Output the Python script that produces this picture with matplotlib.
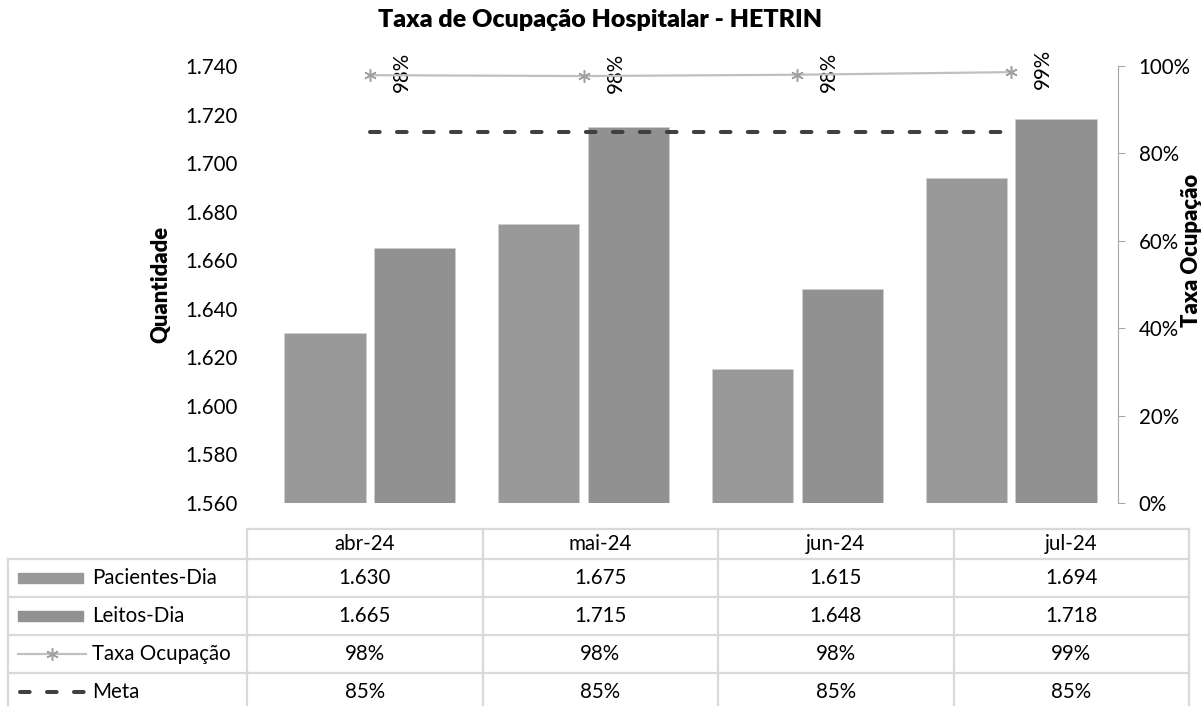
import matplotlib.pyplot as plt
import numpy as np
from matplotlib.lines import Line2D
from matplotlib.patches import Rectangle
from matplotlib.ticker import FuncFormatter, MultipleLocator

plt.rcParams["font.family"] = ["Lato", "DejaVu Sans"]

# data
months = ["abr-24", "mai-24", "jun-24", "jul-24"]
pacientes_dia = [1630, 1675, 1615, 1694]
leitos_dia = [1665, 1715, 1648, 1718]
taxa_ocupacao = [0.979, 0.977, 0.980, 0.986]
meta = [0.85, 0.85, 0.85, 0.85]

W, H = 1202, 706
FS = 14.8
C_PAC = "#999999"
C_LEI = "#919191"
C_TAXA = "#c0c0c0"
C_TAXA_MK = "#a0a0a0"
C_META = "#404040"
C_GRID = "#d9d9d9"


def thousands(v, _pos=None):
    return f"{v / 1000:.3f}"


fig = plt.figure(figsize=(W / 100, H / 100), dpi=100)

# plot area in pixels: x 263..1118, y 66..503
ax = fig.add_axes([263 / W, 1 - 503 / H, (1118 - 263) / W, (503 - 66) / H])
x = np.arange(len(months))
ax.bar(x - 0.21, pacientes_dia, width=0.38, color=C_PAC, edgecolor="#d0d0d0", linewidth=0.5, zorder=2)
ax.bar(x + 0.21, leitos_dia, width=0.38, color=C_LEI, edgecolor="#d0d0d0", linewidth=0.5, zorder=2)
ax.set_xlim(-0.5, len(months) - 0.5)
ax.set_ylim(1560, 1740)
ax.yaxis.set_major_locator(MultipleLocator(20))
ax.yaxis.set_major_formatter(FuncFormatter(thousands))
ax.tick_params(axis="y", length=0, labelsize=FS, pad=18)
ax.set_xticks([])
for s in ax.spines.values():
    s.set_visible(False)
ax.set_ylabel("Quantidade", fontsize=FS + 1, fontweight="heavy", labelpad=10)

ax2 = ax.twinx()
ax2.plot(x, meta, color=C_META, lw=2.9, linestyle=(0, (2.4, 4.3)), dash_capstyle="round", zorder=3)
ax2.plot(x, taxa_ocupacao, color=C_TAXA, lw=1.6, marker=(6, 2, 0), markersize=9,
         markeredgecolor=C_TAXA_MK, markeredgewidth=1.1, zorder=4)
for xi, v in zip(x, taxa_ocupacao):
    ax2.annotate(f"{v:.0%}", (xi, v), xytext=(23, 2), textcoords="offset points",
                 rotation=90, ha="center", va="center", fontsize=FS)
ax2.set_ylim(0, 1)
ax2.yaxis.set_major_locator(MultipleLocator(0.2))
ax2.yaxis.set_major_formatter(FuncFormatter(lambda v, _p: f"{v:.0%}"))
ax2.tick_params(axis="y", direction="out", length=5, color="#a6a6a6", labelsize=FS, pad=10)
for name, s in ax2.spines.items():
    s.set_visible(name == "right")
ax2.spines["right"].set_color("#a6a6a6")
ax2.set_xticks([])
ax2.set_ylabel("Taxa Ocupação", fontsize=FS + 1, fontweight="heavy")
ax2.yaxis.label.set_va("center")
ax2.yaxis.set_label_coords(1 + (1191 - 1118) / (1118 - 263), (503 - 250) / (503 - 66))

fig.text(600 / W, 1 - 20 / H, "Taxa de Ocupação Hospitalar - HETRIN", ha="center", va="center",
         fontsize=18, fontweight="heavy")

# data table below the chart, drawn in pixel coordinates
tb = fig.add_axes([0, 0, 1, 1], zorder=-1)
tb.set_xlim(0, W)
tb.set_ylim(H, 0)
tb.axis("off")

col_edges = [247, 482.5, 718, 953.5, 1189]
row_edges = [529, 559, 597, 635, 673, 711]
gl = dict(color=C_GRID, lw=1.6)
tb.plot([col_edges[0], col_edges[-1]], [row_edges[0]] * 2, **gl)
for yy in row_edges[1:-1]:
    tb.plot([8, col_edges[-1]], [yy, yy], **gl)
for xx in col_edges:
    tb.plot([xx, xx], [row_edges[0], H], **gl)
tb.plot([8, 8], [row_edges[1], H], **gl)

col_centers = [(a + b) / 2 for a, b in zip(col_edges[:-1], col_edges[1:])]
row_centers = [(a + b) / 2 for a, b in zip(row_edges[:-1], row_edges[1:])]

rows = [
    months,
    [thousands(v) for v in pacientes_dia],
    [thousands(v) for v in leitos_dia],
    [f"{v:.0%}" for v in taxa_ocupacao],
    [f"{v:.0%}" for v in meta],
]
for yc, vals in zip(row_centers, rows):
    for xc, t in zip(col_centers, vals):
        tb.text(xc, yc, t, ha="center", va="center", fontsize=FS)

labels = ["Pacientes-Dia", "Leitos-Dia", "Taxa Ocupação", "Meta"]
for yc, lab in zip(row_centers[1:], labels):
    tb.text(92, yc, lab, ha="left", va="center", fontsize=FS)

# legend keys
tb.add_patch(Rectangle((18, row_centers[1] - 5), 65, 10, color=C_PAC))
tb.add_patch(Rectangle((18, row_centers[2] - 5), 65, 10, color=C_LEI))
tb.add_line(Line2D([18, 86], [row_centers[3]] * 2, color=C_TAXA, lw=1.6))
tb.plot([52], [row_centers[3]], marker=(6, 2, 0), markersize=9, markeredgecolor=C_TAXA_MK,
        markeredgewidth=1.1, color=C_TAXA_MK)
tb.add_line(Line2D([20, 86], [row_centers[4]] * 2, color=C_META, lw=2.9,
                   linestyle=(0, (2.4, 4.3)), dash_capstyle="round"))

fig.savefig("out.png", dpi=100)
